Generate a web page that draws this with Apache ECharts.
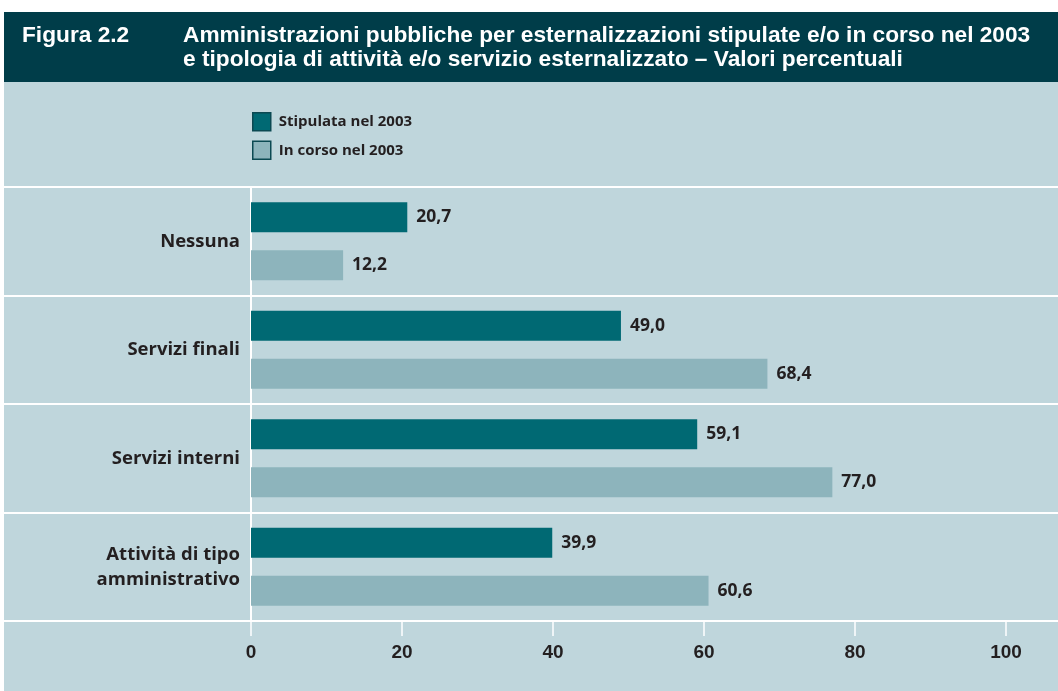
<!DOCTYPE html>
<html>
<head>
<meta charset="utf-8">
<script src="https://cdn.jsdelivr.net/npm/echarts@6/dist/echarts.min.js"></script>
<style>
  html, body { margin: 0; padding: 0; background: #fff; }
  #chart { width: 1058px; height: 691px; }
</style>
</head>
<body>
<div id="chart"></div>
<script>
const categories = ['Nessuna', 'Servizi finali', 'Servizi interni', 'Attività di tipo\namministrativo']
const stipulata = [20.7, 49.0, 59.1, 39.9]
const inCorso = [12.2, 68.4, 77.0, 60.6]
const seriesNames = ['Stipulata nel 2003', 'In corso nel 2003']
const figLabel = 'Figura 2.2'
const titleLines = [
  'Amministrazioni pubbliche per esternalizzazioni stipulate e/o in corso nel 2003',
  'e tipologia di attività e/o servizio esternalizzato – Valori percentuali'
]

const dark = '#006973'
const light = '#8db4bc'
const panel = '#bfd6dc'
const textCol = '#231f20'
const headFont = '"Liberation Sans", sans-serif'
const bodyFont = '"Open Sans", sans-serif'

const chart = echarts.init(document.getElementById('chart'))

const fmt = (p) => p.value.toFixed(1).replace('.', ',')

const valueLabel = {
  show: true, position: 'right', distance: 9, formatter: fmt,
  color: textCol, fontFamily: bodyFont, fontWeight: 'bold', fontSize: 17.5
}

chart.setOption({
  backgroundColor: '#ffffff',
  animation: false,
  graphic: [
    { type: 'rect', z: -10, shape: { x: 4, y: 12, width: 1054, height: 70 }, style: { fill: '#003d49' } },
    { type: 'rect', z: -10, shape: { x: 4, y: 82, width: 1054, height: 609 }, style: { fill: panel } }
  ],
  title: [
    {
      text: figLabel, left: 22, top: 24, padding: 0,
      textStyle: { color: '#fff', fontFamily: headFont, fontWeight: 'bold', fontSize: 22.7, lineHeight: 24 }
    },
    {
      text: titleLines.join('\n'), left: 183, top: 24, padding: 0,
      textStyle: { color: '#fff', fontFamily: headFont, fontWeight: 'bold', fontSize: 22.7, lineHeight: 24 }
    }
  ],
  legend: {
    orient: 'vertical', left: 247, top: 107, itemGap: 9,
    itemWidth: 18, itemHeight: 18, icon: 'rect',
    data: seriesNames,
    itemStyle: { borderColor: '#0b4952', borderWidth: 1.5 },
    textStyle: { color: textCol, fontFamily: bodyFont, fontWeight: 'bold', fontSize: 15, padding: [0, 0, 0, 3] }
  },
  grid: [
    { left: 251, right: 52, top: 187, height: 434 },
    { left: 4, right: 0, top: 187, height: 434 }
  ],
  xAxis: [
    {
      gridIndex: 0, type: 'value', min: 0, max: 100, interval: 20,
      axisLine: { show: false },
      axisTick: { show: true, length: 15, lineStyle: { color: '#fff', width: 1.5 } },
      splitLine: { show: false },
      axisLabel: { margin: 22, color: textCol, fontFamily: headFont, fontWeight: 'bold', fontSize: 19 }
    },
    { gridIndex: 1, type: 'value', show: false }
  ],
  yAxis: [
    {
      gridIndex: 0, type: 'category', inverse: true, data: categories,
      axisLine: { show: true, lineStyle: { color: '#fff', width: 2 } },
      axisTick: { show: false },
      splitLine: { show: false },
      axisLabel: {
        margin: 11, color: textCol, fontFamily: bodyFont, fontWeight: 'bold',
        fontSize: 18.5, lineHeight: 25, align: 'right'
      }
    },
    {
      gridIndex: 1, type: 'category', inverse: true, data: categories,
      axisLine: { show: false }, axisTick: { show: false }, axisLabel: { show: false },
      splitLine: { show: true, lineStyle: { color: '#fff', width: 2 } }
    }
  ],
  series: [
    {
      name: seriesNames[0], type: 'bar', xAxisIndex: 0, yAxisIndex: 0,
      data: stipulata, barWidth: 30, barGap: '60%',
      itemStyle: { color: dark },
      label: valueLabel
    },
    {
      name: seriesNames[1], type: 'bar', xAxisIndex: 0, yAxisIndex: 0,
      data: inCorso, barWidth: 30, barGap: '60%',
      itemStyle: { color: light },
      label: valueLabel
    }
  ]
})
</script>
</body>
</html>
